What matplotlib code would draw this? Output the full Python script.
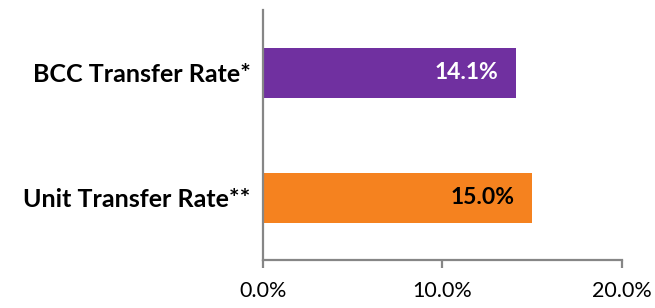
import matplotlib.pyplot as plt
from matplotlib.ticker import FuncFormatter

plt.rcParams['font.family'] = ['Lato', 'DejaVu Sans']

categories = ['Unit Transfer Rate**', 'BCC Transfer Rate*']
rates = [15.0, 14.1]
bar_colors = ['#F5821F', '#7030A0']
text_colors = ['black', 'white']
xticks = [0, 10, 20]

fig = plt.figure(figsize=(6.55, 3.08), dpi=100)
ax = fig.add_axes([0.4015, 0.1558, 0.548, 0.8117])

ypos = range(len(categories))
ax.barh(ypos, rates, height=0.4, color=bar_colors)
for y, r, tc in zip(ypos, rates, text_colors):
    ax.text(r - 1.0, y, '%.1f%%' % r, ha='right', va='center',
            color=tc, fontsize=16.5, fontweight='bold')

ax.set_xlim(0, 20)
ax.set_ylim(-0.5, 1.5)
ax.set_xticks(xticks)
ax.xaxis.set_major_formatter(FuncFormatter(lambda v, p: '%.1f%%' % v))
ax.set_yticks(list(ypos))
ax.set_yticklabels(categories, fontsize=18, fontweight='bold')

for s in ['top', 'right']:
    ax.spines[s].set_visible(False)
for s in ['left', 'bottom']:
    ax.spines[s].set_color('#868686')
    ax.spines[s].set_linewidth(1.6)
ax.tick_params(axis='x', length=6, width=1.6, color='#868686', labelsize=15.5, pad=9)
ax.tick_params(axis='y', length=0, pad=9)

fig.savefig('out.png', dpi=100)
